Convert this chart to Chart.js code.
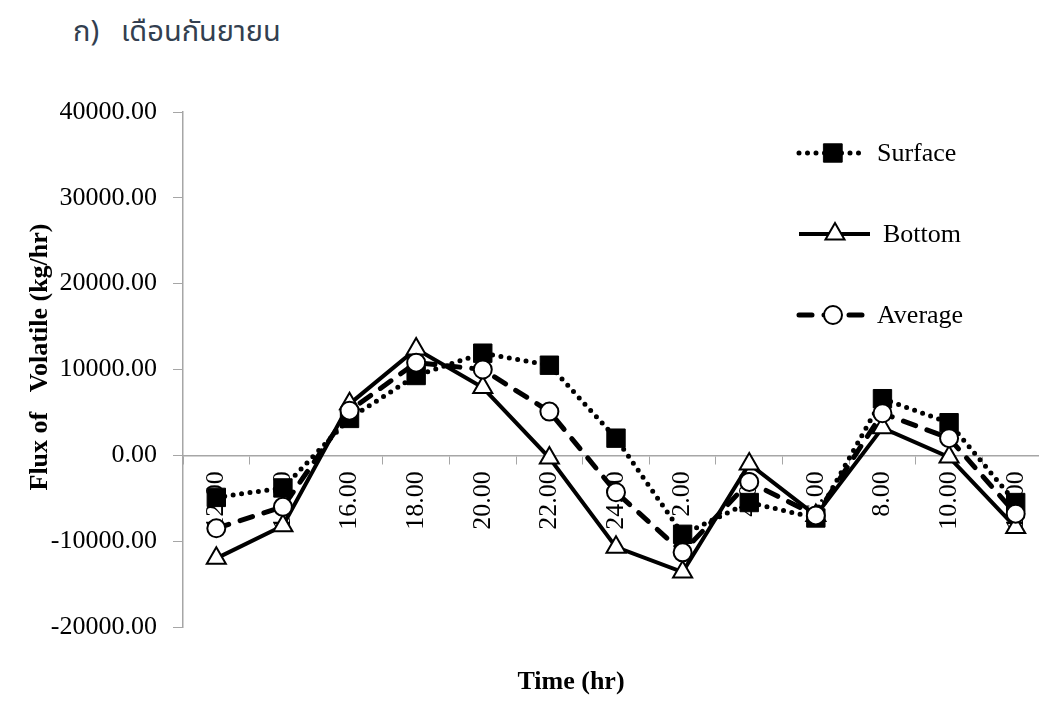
<!DOCTYPE html>
<html>
<head>
<meta charset="utf-8">
<script src="https://cdn.jsdelivr.net/npm/chart.js@4"></script>
<style>
  html, body { margin: 0; padding: 0; background: #fff; overflow: hidden; }
  body { width: 1039px; height: 720px; position: relative; }
  #wrap { position: absolute; left: 0; top: 0; width: 1063px; height: 720px; }
  #heading { position: absolute; left: 73px; top: 10px; font: 29px "Noto Sans Thai", "Noto Sans", sans-serif; color: #333f50; white-space: pre; }
  #heading span { margin-left: 22px; }
  #xtitle { position: absolute; left: 471px; top: 666px; width: 200px; text-align: center; font: bold 26px "Liberation Serif", serif; line-height: 30px; color: #000; }
</style>
</head>
<body>
<div id="heading">ก)<span>เดือนกันยายน</span></div>
<div id="wrap"><canvas id="flux" width="1063" height="720"></canvas></div>
<div id="xtitle">Time (hr)</div>
<script>
// time of day, every 2 hours
const times = ["12.00", "14.00", "16.00", "18.00", "20.00", "22.00", "24.00", "2.00", "4.00", "6.00", "8.00", "10.00", "12.00"];

// flux of volatile (kg/hr)
const surface = [-4900, -3800, 4300, 9300, 11900, 10500, 2000, -9200, -5500, -7300, 6600, 3800, -5500];
const bottom = [-12000, -8200, 6000, 12400, 7900, -300, -10700, -13600, -1000, -7000, 3200, -200, -8400];
const average = [-8500, -6000, 5200, 10800, 10000, 5100, -4300, -11300, -3100, -7000, 4900, 2000, -6800];

const yMin = -20000;
const yMax = 40000;
const yStep = 10000;

const yTitle = "Flux of   Volatile (kg/hr)";

const serif = '"Liberation Serif", "Times New Roman", serif';
const axisGray = '#a6a6a6';

// legend rows on the right side: line start/end, marker and text x
const legendRows = [
    { y: 153, x1: 799, x2: 866, mx: 833, tx: 877 },
    { y: 234, x1: 799, x2: 870, mx: 835, tx: 883 },
    { y: 315, x1: 799, x2: 864, mx: 833, tx: 877 }
];

const sideLegend = {
    id: 'sideLegend',
    afterDraw(chart) {
        const ctx = chart.ctx;

        // y axis title, sits a bit above the middle of the axis
        ctx.save();
        ctx.translate(40, 357);
        ctx.rotate(-Math.PI / 2);
        ctx.font = 'bold 26px ' + serif;
        ctx.fillStyle = '#000';
        ctx.textAlign = 'center';
        ctx.textBaseline = 'middle';
        ctx.fillText(yTitle, 0, 0);
        ctx.restore();

        chart.data.datasets.forEach((ds, i) => {
            const row = legendRows[i];
            ctx.save();
            ctx.strokeStyle = ds.borderColor;
            ctx.lineWidth = ds.borderWidth;
            ctx.lineCap = ds.borderCapStyle || 'butt';
            ctx.setLineDash(ds.borderDash || []);
            ctx.beginPath();
            ctx.moveTo(row.x1, row.y);
            ctx.lineTo(row.x2, row.y);
            ctx.stroke();
            ctx.setLineDash([]);
            ctx.fillStyle = ds.pointBackgroundColor;
            ctx.strokeStyle = ds.pointBorderColor;
            ctx.lineWidth = ds.pointBorderWidth;
            Chart.helpers.drawPoint(ctx, {
                pointStyle: ds.pointStyle,
                radius: ds.pointRadius,
                borderWidth: ds.pointBorderWidth,
                rotation: 0
            }, row.mx, row.y);
            ctx.fillStyle = '#000';
            ctx.font = '26px ' + serif;
            ctx.textBaseline = 'middle';
            ctx.textAlign = 'left';
            ctx.fillText(ds.label, row.tx, row.y + 1);
            ctx.restore();
        });
    }
};

new Chart("flux", {
    type: "line",
    data: {
        labels: times,
        datasets: [{
            label: "Surface",
            data: surface,
            borderColor: '#000',
            borderWidth: 5,
            borderDash: [0, 8.5],
            borderCapStyle: 'round',
            pointStyle: 'rect',
            pointRadius: 13,
            pointBackgroundColor: '#000',
            pointBorderColor: '#000',
            pointBorderWidth: 1,
            tension: 0,
            order: 2
        }, {
            label: "Bottom",
            data: bottom,
            borderColor: '#000',
            borderWidth: 4,
            pointStyle: 'triangle',
            pointRadius: 11,
            pointBackgroundColor: '#fff',
            pointBorderColor: '#000',
            pointBorderWidth: 2,
            tension: 0,
            order: 1
        }, {
            label: "Average",
            data: average,
            borderColor: '#000',
            borderWidth: 5,
            borderDash: [13, 12],
            borderCapStyle: 'round',
            pointStyle: 'circle',
            pointRadius: 9,
            pointBackgroundColor: '#fff',
            pointBorderColor: '#000',
            pointBorderWidth: 2,
            tension: 0,
            order: 0
        }]
    },
    options: {
        responsive: false,
        animation: false,
        layout: { padding: { left: 0, top: 112, right: 0, bottom: 93 } },
        plugins: {
            legend: { display: false },
            tooltip: { enabled: false }
        },
        scales: {
            x: {
                type: 'category',
                offset: true,
                position: { y: 0 },
                grid: {
                    offset: true,
                    drawOnChartArea: false,
                    drawTicks: true,
                    tickLength: 8,
                    color: axisGray
                },
                border: { display: true, color: axisGray, width: 1.5 },
                ticks: {
                    autoSkip: false,
                    maxRotation: 90,
                    minRotation: 90,
                    padding: 8,
                    color: '#000',
                    font: { family: serif, size: 26 }
                }
            },
            y: {
                min: yMin,
                max: yMax,
                afterFit(scale) { scale.width = 183; },
                grid: {
                    drawOnChartArea: false,
                    drawTicks: true,
                    tickLength: 10,
                    color: axisGray
                },
                border: { display: true, color: axisGray, width: 1.5 },
                ticks: {
                    stepSize: yStep,
                    padding: 16,
                    color: '#000',
                    font: { family: serif, size: 26 },
                    callback: v => v.toFixed(2)
                }
            }
        }
    },
    plugins: [sideLegend]
});
</script>
</body>
</html>
